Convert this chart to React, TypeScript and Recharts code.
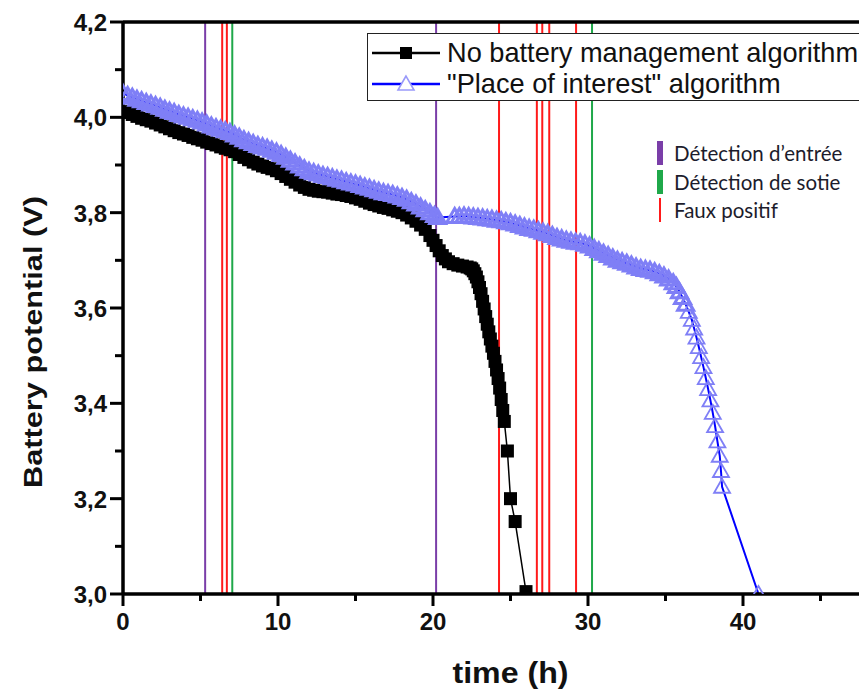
import React from 'react';
import { LineChart, Line, XAxis, YAxis, ReferenceLine, Legend, Label } from 'recharts';

// ---- Data ----
const noMgmtTime = [
  0.0, 0.3, 0.6, 0.9, 1.2, 1.5, 1.8, 2.1, 2.4, 2.7, 3.0, 3.3, 3.6, 3.9, 4.2, 4.5, 4.8, 5.1, 5.4, 5.7,
  6.0, 6.3, 6.6, 6.9, 7.2, 7.5, 7.8, 8.1, 8.4, 8.7, 9.0, 9.3, 9.6, 9.9, 10.2, 10.5, 10.8, 11.1, 11.4, 11.7,
  12.0, 12.3, 12.6, 12.9, 13.2, 13.5, 13.8, 14.1, 14.4, 14.7, 15.0, 15.3, 15.6, 15.9, 16.2, 16.5, 16.8, 17.1, 17.4, 17.7,
  18.0, 18.3, 18.6, 18.9, 19.2, 19.5, 19.8, 20.0, 20.2, 20.4, 20.6, 20.8, 21.0, 21.3, 21.6, 21.9, 22.2, 22.4,
  22.5, 22.6, 22.7, 22.8, 22.9, 23.0, 23.1, 23.2, 23.3, 23.4, 23.5, 23.6, 23.7, 23.8, 23.9, 24.0, 24.1, 24.2, 24.3, 24.4,
  24.5, 24.6, 24.8, 25.0, 25.3, 26.0,
];
const noMgmtVolt = [
  4.012, 4.010, 4.006, 4.002, 3.998, 3.995, 3.992, 3.988, 3.984, 3.980, 3.976, 3.972, 3.968, 3.965, 3.962, 3.958, 3.955, 3.952, 3.948, 3.945,
  3.942, 3.938, 3.935, 3.932, 3.928, 3.922, 3.916, 3.911, 3.906, 3.902, 3.898, 3.895, 3.892, 3.888, 3.882, 3.876, 3.870, 3.864, 3.858, 3.853,
  3.849, 3.847, 3.845, 3.844, 3.843, 3.841, 3.839, 3.838, 3.836, 3.834, 3.831, 3.828, 3.824, 3.820, 3.817, 3.814, 3.811, 3.809, 3.806, 3.803,
  3.800, 3.795, 3.789, 3.782, 3.774, 3.765, 3.752, 3.742, 3.731, 3.720, 3.710, 3.703, 3.697, 3.693, 3.690, 3.688, 3.686, 3.684,
  3.682, 3.678, 3.672, 3.665, 3.655, 3.643, 3.630, 3.614, 3.598, 3.582, 3.566, 3.550, 3.535, 3.520, 3.505, 3.488, 3.470, 3.452, 3.432, 3.408,
  3.385, 3.362, 3.300, 3.200, 3.152, 3.005,
];

const poiTime = [
  0.0, 0.3, 0.6, 0.9, 1.2, 1.5, 1.8, 2.1, 2.4, 2.7, 3.0, 3.3, 3.6, 3.9, 4.2, 4.5, 4.8, 5.1, 5.4, 5.7,
  6.0, 6.3, 6.6, 6.9, 7.2, 7.5, 7.8, 8.1, 8.4, 8.7, 9.0, 9.3, 9.6, 9.9, 10.2, 10.5, 10.8, 11.1, 11.4, 11.7,
  12.0, 12.3, 12.6, 12.9, 13.2, 13.5, 13.8, 14.1, 14.4, 14.7, 15.0, 15.3, 15.6, 15.9, 16.2, 16.5, 16.8, 17.1, 17.4, 17.7,
  18.0, 18.3, 18.6, 18.9, 19.2, 19.5, 19.8, 20.1, 20.3,
  21.4, 21.7, 22.0, 22.3, 22.6, 22.9, 23.2, 23.5, 23.8, 24.1, 24.4, 24.7, 25.0, 25.3, 25.6, 25.9, 26.2, 26.5, 26.8, 27.1,
  27.4, 27.7, 28.0, 28.3, 28.6, 28.9, 29.2, 29.5, 29.8, 30.1, 30.4, 30.7, 31.0, 31.3, 31.6, 31.9, 32.2, 32.5, 32.8, 33.1,
  33.4, 33.7, 34.0, 34.3, 34.6, 34.9, 35.2, 35.5, 35.7, 35.9, 36.1, 36.3, 36.5, 36.7, 36.85, 37.0, 37.15, 37.3, 37.45, 37.6,
  37.75, 37.9, 38.05, 38.2, 38.35, 38.5, 38.58, 38.65, 41.0,
];
const poiVolt = [
  4.050, 4.046, 4.042, 4.038, 4.035, 4.031, 4.028, 4.025, 4.021, 4.017, 4.013, 4.010, 4.006, 4.003, 4.000, 3.997, 3.994, 3.990, 3.986, 3.982,
  3.978, 3.975, 3.972, 3.968, 3.963, 3.958, 3.953, 3.949, 3.945, 3.941, 3.938, 3.935, 3.931, 3.927, 3.922, 3.916, 3.910, 3.904, 3.898, 3.892,
  3.887, 3.884, 3.881, 3.878, 3.876, 3.873, 3.870, 3.868, 3.865, 3.862, 3.860, 3.857, 3.854, 3.851, 3.848, 3.845, 3.842, 3.840, 3.838, 3.835,
  3.832, 3.828, 3.823, 3.818, 3.812, 3.806, 3.800, 3.794, 3.790,
  3.792, 3.792, 3.793, 3.792, 3.791, 3.790, 3.789, 3.787, 3.786, 3.784, 3.783, 3.781, 3.779, 3.776, 3.773, 3.770, 3.767, 3.765, 3.762, 3.759,
  3.756, 3.752, 3.748, 3.745, 3.742, 3.740, 3.738, 3.737, 3.734, 3.730, 3.725, 3.720, 3.715, 3.710, 3.705, 3.700, 3.697, 3.694, 3.690, 3.686,
  3.683, 3.681, 3.679, 3.676, 3.672, 3.667, 3.661, 3.653, 3.645, 3.634, 3.622, 3.608, 3.592, 3.575, 3.557, 3.538, 3.518, 3.497, 3.476, 3.453,
  3.430, 3.406, 3.380, 3.352, 3.320, 3.290, 3.258, 3.225, 3.000,
];

const entryTimes = [5.3, 20.2];
const exitTimes = [7.05, 30.26];
const falsePositiveTimes = [6.4, 6.7, 24.26, 26.7, 27.05, 27.5, 29.23];
const eventSpan = [3.0, 4.2];

const xTicks = [0, 5, 10, 15, 20, 25, 30, 35, 40, 45];
const yTicks = [3.0, 3.1, 3.2, 3.3, 3.4, 3.5, 3.6, 3.7, 3.8, 3.9, 4.0, 4.1, 4.2];

const seriesNames = ['No battery management algorithm', '"Place of interest" algorithm'];
const eventNames = ['Détection d\u2019entrée', 'Détection de sotie', 'Faux positif'];
const xTitle = 'time (h)';
const yTitle = 'Battery potential (V)';

// ---- styling ----
const AXIS_FONT = '"Liberation Sans", Arial, sans-serif';
const PURPLE = '#7a3ea8';
const GREEN = '#1fa84a';
const RED = '#ff1a1a';
const TRI_STROKE = '#7f7ff6';
const BLUE_LINE = '#0000ff';

const noMgmtData = noMgmtTime.map((t, i) => ({ t, v: noMgmtVolt[i] }));
const poiData = poiTime.map((t, i) => ({ t, v: poiVolt[i] }));
const eventLines = [
  ...entryTimes.map((t) => ({ t, color: PURPLE })),
  ...exitTimes.map((t) => ({ t, color: GREEN })),
  ...falsePositiveTimes.map((t) => ({ t, color: RED })),
];

const fmt = (v: number) => v.toFixed(1).replace('.', ',');

const XTick = (props: any) => {
  const { x, y, payload } = props;
  const major = Math.round(payload.value) % 10 === 0;
  return (
    <g>
      <line x1={x} x2={x} y1={y} y2={y + (major ? 12 : 7)} stroke="#000" strokeWidth={3} />
      {major && (
        <text x={x} y={y + 36} textAnchor="middle" fontFamily={AXIS_FONT} fontWeight="bold" fontSize={24} fill="#111">
          {payload.value}
        </text>
      )}
    </g>
  );
};

const YTick = (props: any) => {
  const { x, y, payload } = props;
  const major = Math.round(payload.value * 10) % 2 === 0;
  return (
    <g>
      <line x1={x - (major ? 13 : 8)} x2={x} y1={y} y2={y} stroke="#000" strokeWidth={3} />
      {major && (
        <text x={x - 16} y={y + 9} textAnchor="end" fontFamily={AXIS_FONT} fontWeight="bold" fontSize={24} fill="#111">
          {fmt(payload.value)}
        </text>
      )}
    </g>
  );
};

const SquareDot = (props: any) => {
  const { cx, cy, index } = props;
  if (cx == null || cy == null) return <g key={`sq${index}`} />;
  return <rect key={`sq${index}`} x={cx - 6.5} y={cy - 6.5} width={13} height={13} fill="#000" />;
};

const TriangleDot = (props: any) => {
  const { cx, cy, index, payload } = props;
  if (cx == null || cy == null) return <g key={`tr${index}`} />;
  const steep = payload && payload.v < 3.6;
  return (
    <polygon
      key={`tr${index}`}
      points={`${cx},${cy - 8} ${cx - 8},${cy + 6} ${cx + 8},${cy + 6}`}
      fill="none"
      stroke={TRI_STROKE}
      strokeWidth={steep ? 1.8 : 3}
      strokeLinejoin="miter"
    />
  );
};

const LegendContent = () => (
  <div style={{ position: 'relative', fontFamily: AXIS_FONT }}>
    <div
      style={{
        border: '1.5px solid #222',
        background: '#fff',
        width: 560,
        height: 68,
        boxSizing: 'border-box',
        paddingTop: 3,
      }}
    >
      {seriesNames.map((name, i) => (
        <div key={name} style={{ display: 'flex', alignItems: 'center', height: 31, whiteSpace: 'nowrap' }}>
          <svg width={76} height={24} style={{ flex: 'none' }}>
            <line x1={4} x2={72} y1={12} y2={12} stroke={i === 0 ? '#000' : BLUE_LINE} strokeWidth={2.5} />
            {i === 0 ? (
              <rect x={32} y={6} width={12} height={12} fill="#000" />
            ) : (
              <polygon points="38,4 30,18 46,18" fill="#fff" stroke="#9a9afa" strokeWidth={1.6} />
            )}
          </svg>
          <span style={{ fontSize: 27.2, color: '#111', marginLeft: 3, lineHeight: '31px' }}>{name}</span>
        </div>
      ))}
    </div>
    <div style={{ position: 'absolute', left: 290, top: 106, fontFamily: 'Lato, "Open Sans", sans-serif' }}>
      {eventNames.map((name, i) => (
        <div key={name} style={{ display: 'flex', alignItems: 'center', height: 28.5, whiteSpace: 'nowrap' }}>
          <div
            style={{
              width: i === 2 ? 2 : 6,
              marginLeft: i === 2 ? 2 : 0,
              marginRight: i === 2 ? 13 : 11,
              height: 24,
              background: i === 0 ? PURPLE : i === 1 ? GREEN : RED,
            }}
          />
          <span style={{ fontSize: 20.5, color: '#1c1c2c' }}>{name}</span>
        </div>
      ))}
    </div>
  </div>
);

export default function App() {
  return (
    <div
      style={{
        position: 'absolute',
        left: 0,
        top: 0,
        width: 859,
        height: 695,
        overflow: 'hidden',
        background: '#fff',
      }}
    >
      <LineChart width={900} height={695} margin={{ top: 22, right: 2, left: 0, bottom: 0 }}>
        <XAxis
          type="number"
          dataKey="t"
          domain={[0, 50]}
          ticks={xTicks}
          interval={0}
          height={101}
          tickSize={0}
          tickMargin={0}
          tickLine={false}
          tick={<XTick />}
          axisLine={{ stroke: '#000', strokeWidth: 3.5 }}
          allowDataOverflow
        >
          <Label
            content={(p: any) => {
              const vb = p.viewBox || {};
              return (
                <text
                  x={vb.x + vb.width / 2}
                  y={vb.y + 89}
                  textAnchor="middle"
                  fontFamily={AXIS_FONT}
                  fontWeight="bold"
                  fontSize={30}
                  fill="#111"
                  textLength={116}
                  lengthAdjust="spacingAndGlyphs"
                >
                  {xTitle}
                </text>
              );
            }}
          />
        </XAxis>
        <YAxis
          type="number"
          dataKey="v"
          domain={[3.0, 4.2]}
          ticks={yTicks}
          interval={0}
          width={123}
          tickSize={0}
          tickMargin={0}
          tickLine={false}
          tick={<YTick />}
          axisLine={{ stroke: '#000', strokeWidth: 3.5 }}
          allowDataOverflow
        >
          <Label
            content={(p: any) => {
              const vb = p.viewBox || {};
              const cx = vb.x + 42;
              const cy = vb.y + vb.height / 2 + 34;
              return (
                <text
                  x={cx}
                  y={cy}
                  transform={`rotate(-90, ${cx}, ${cy})`}
                  textAnchor="middle"
                  fontFamily={AXIS_FONT}
                  fontWeight="bold"
                  fontSize={25}
                  fill="#111"
                  textLength={292}
                  lengthAdjust="spacingAndGlyphs"
                >
                  {yTitle}
                </text>
              );
            }}
          />
        </YAxis>
        {eventLines.map((ev, i) => (
          <Line
            key={`ev${i}`}
            data={eventSpan.map((v) => ({ t: ev.t, v }))}
            dataKey="v"
            stroke={ev.color}
            strokeWidth={2}
            dot={false}
            activeDot={false}
            legendType="none"
            isAnimationActive={false}
          />
        ))}
        <Line
          data={noMgmtData}
          dataKey="v"
          name={seriesNames[0]}
          stroke="#000"
          strokeWidth={1.5}
          dot={SquareDot}
          activeDot={false}
          isAnimationActive={false}
        />
        <Line
          data={poiData}
          dataKey="v"
          name={seriesNames[1]}
          stroke={BLUE_LINE}
          strokeWidth={2}
          dot={TriangleDot}
          activeDot={false}
          isAnimationActive={false}
        />
        <ReferenceLine y={4.2} stroke="#000" strokeWidth={3.5} />
        <Legend
          layout="horizontal"
          verticalAlign="middle"
          align="center"
          content={() => <LegendContent />}
          wrapperStyle={{ position: 'absolute', left: 367, top: 33, width: 560, height: 68 }}
        />
      </LineChart>
    </div>
  );
}
